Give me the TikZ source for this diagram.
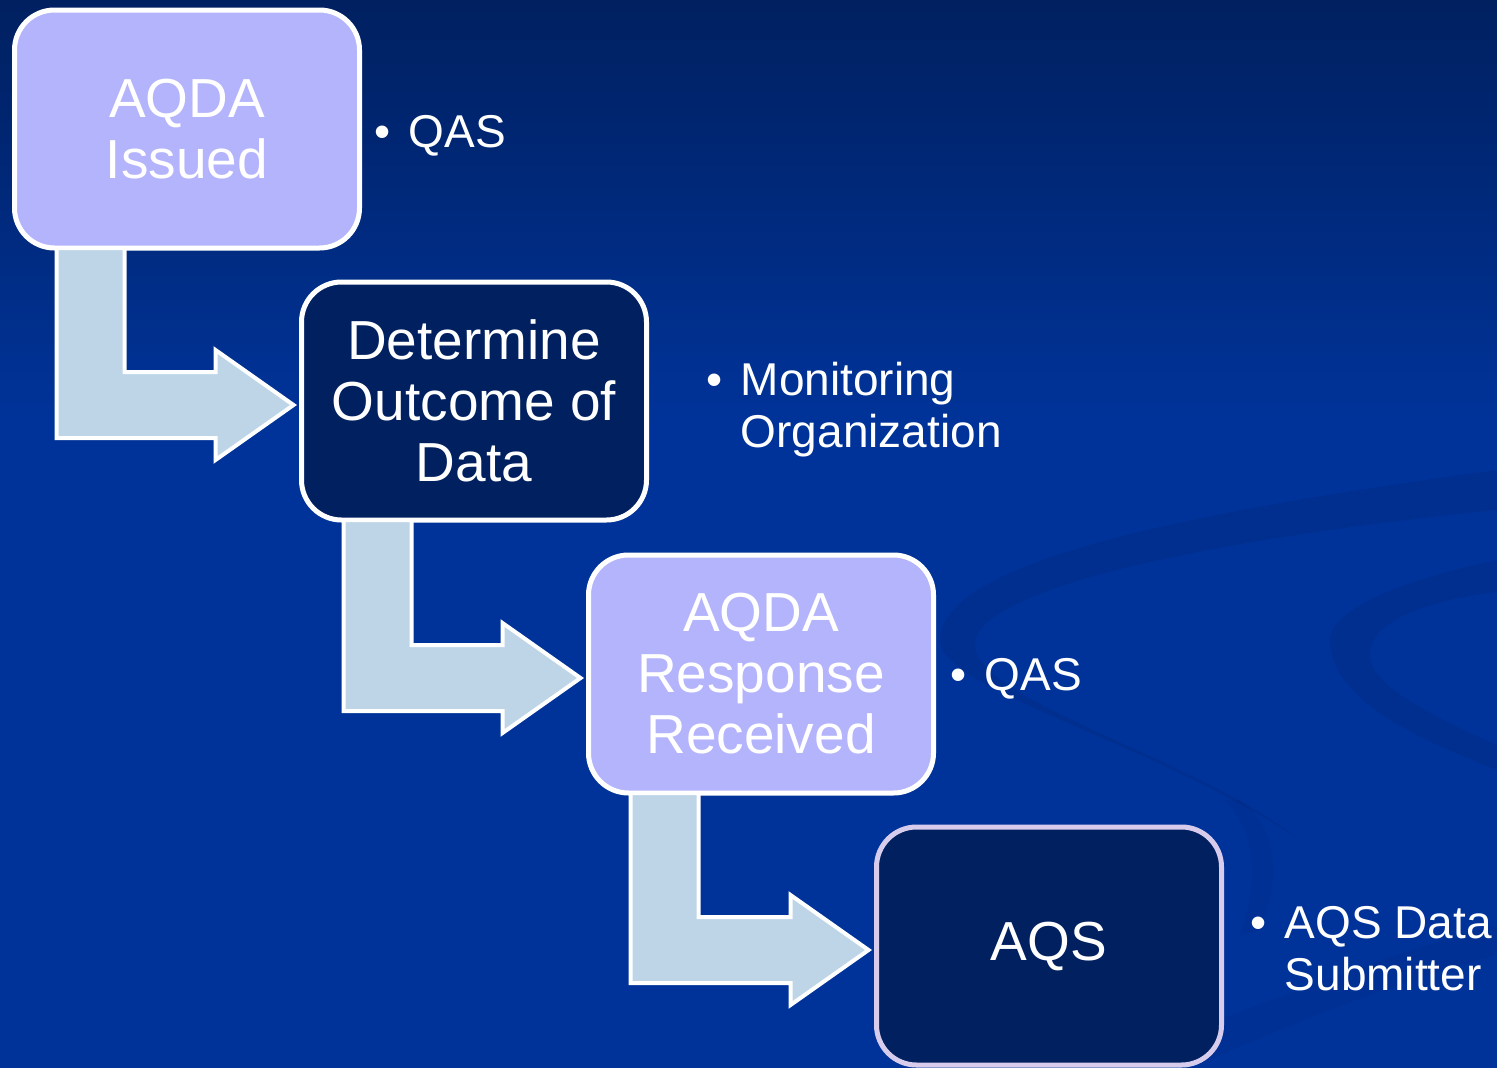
\documentclass[tikz,border=0pt]{standalone}
\usepackage{fontspec}
\setmainfont{Liberation Sans}
\usetikzlibrary{calc}

\definecolor{bgtop}{RGB}{0,32,96}
\definecolor{bgmain}{RGB}{0,51,153}
\definecolor{swoosh}{RGB}{0,40,130}
\definecolor{lavender}{RGB}{180,180,252}
\definecolor{navybox}{RGB}{0,32,96}
\definecolor{arrowfill}{RGB}{189,213,231}
\definecolor{aqsline}{RGB}{216,204,236}

\tikzset{
  stepbox/.style={rectangle, rounded corners=40pt, line width=5pt, draw=white,
    minimum width=345pt, minimum height=238pt, outer sep=0pt, align=center,
    text=white, font=\fontsize{55}{61}\selectfont},
  lightbox/.style={stepbox, fill=lavender},
  darkbox/.style={stepbox, fill=navybox},
  blockarrow/.style={fill=arrowfill, draw=white, line width=4pt, line join=miter},
  bulletnote/.style={anchor=base west, inner sep=0pt, text=white,
    font=\fontsize{46}{52}\selectfont},
}
% bullet with hanging text
\newcommand{\noteitem}[1]{\begin{tabular}[t]{@{}l@{\hspace{18pt}}l@{}}\textbullet &
  \begin{tabular}[t]{@{}l@{}}#1\end{tabular}\end{tabular}}

\begin{document}
\begin{tikzpicture}[x=1pt,y=-1pt]
\useasboundingbox (0,0) rectangle (1497,1068);
% background
\fill[bgmain] (0,0) rectangle (1497,1068);
\shade[top color=bgtop, bottom color=bgmain] (0,0) rectangle (1497,420);
% faint swooshes
\fill[swoosh, opacity=0.35] (1497,470) .. controls (1200,510) and (940,560) .. (940,640)
  .. controls (940,690) and (1150,740) .. (1300,840)
  .. controls (1200,760) and (975,700) .. (975,645)
  .. controls (975,590) and (1200,540) .. (1497,510) -- cycle;
\fill[swoosh, opacity=0.35] (1497,560) .. controls (1400,580) and (1330,610) .. (1330,640)
  .. controls (1330,700) and (1420,740) .. (1497,770) -- (1497,745)
  .. controls (1430,715) and (1370,685) .. (1370,655)
  .. controls (1370,620) and (1430,600) .. (1497,592) -- cycle;
\fill[swoosh, opacity=0.25] (1240,800) .. controls (1280,830) and (1280,880) .. (1260,930)
  -- (1240,935) .. controls (1260,880) and (1255,830) .. (1225,800) -- cycle;
\fill[swoosh, opacity=0.25] (1150,1045) .. controls (1300,990) and (1400,950) .. (1497,925)
  -- (1497,955) .. controls (1400,980) and (1300,1020) .. (1190,1068) -- cycle;

% steps
\node[lightbox] (issued) at (187,129) {AQDA\\Issued};
\node[darkbox] (outcome) at (474,401) {Determine\\Outcome of\\Data};
\node[lightbox] (response) at (761,674) {AQDA\\Response\\Received};
\node[darkbox, draw=aqsline] (aqs) at (1049,946) {AQS};

% bent arrows
\foreach \from/\to in {issued/outcome, outcome/response, response/aqs}{
  \draw[blockarrow] ($(\from.south west)+(42,0)$) |- ($(\to.west)+(-86,37)$)
    -- ($(\to.west)+(-86,59)$) -- ($(\to.west)+(-8,4)$)
    -- ($(\to.west)+(-86,-51)$) -- ($(\to.west)+(-86,-29)$)
    -| ($(\from.south west)+(110,0)$) -- cycle;
}

% who is responsible
\node[bulletnote] (issuedby) at ($(issued.east)+(15,18)$) {\noteitem{QAS}};
\node[bulletnote] (outcomeby) at ($(outcome.east)+(60,-6)$) {\noteitem{Monitoring\\Organization}};
\node[bulletnote] (responseby) at ($(response.east)+(17,16)$) {\noteitem{QAS}};
\node[bulletnote] (aqsby) at ($(aqs.east)+(29,-8)$) {\noteitem{AQS Data\\Submitter}};
\end{tikzpicture}
\end{document}
